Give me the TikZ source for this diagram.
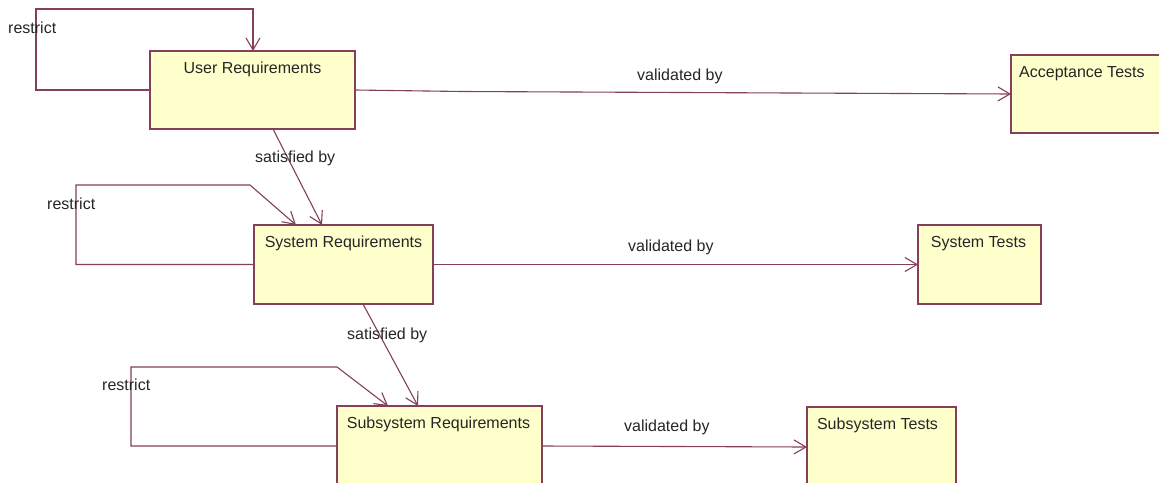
\documentclass[tikz,border=0pt]{standalone}
\usepackage{fontspec}
\setmainfont{Liberation Sans}
\usetikzlibrary{arrows.meta,calc}
\definecolor{edge}{HTML}{84405A}
\definecolor{boxfill}{HTML}{FFFFCC}
\definecolor{txt}{HTML}{262626}
\begin{document}
\begin{tikzpicture}[x=1pt,y=-1pt,
  box/.style={draw=edge,fill=boxfill,line width=1.2pt,inner sep=0pt,outer sep=0pt},
  title/.style={anchor=base,inner sep=0pt,text=txt,font=\fontsize{16}{19}\selectfont},
  lbl/.style={anchor=base west,inner sep=0pt,text=txt,font=\fontsize{16}{19}\selectfont},
  conn/.style={draw=edge,line width=1.1pt,-{Straight Barb[length=12pt,width=14pt,line width=1.1pt]}}]
\clip (0,0) rectangle (1159,482);
\fill[white] (0,0) rectangle (1159,482);
% boxes
\node[box,minimum width=205pt,minimum height=78pt] (ur) at (252.5,90) {};
\node[box,minimum width=159pt,minimum height=78pt] (at) at (1090.5,94) {};
\node[box,minimum width=179pt,minimum height=79pt] (sr) at (343.5,264.5) {};
\node[box,minimum width=123pt,minimum height=79pt] (st) at (979.5,264.5) {};
\node[box,minimum width=205pt,minimum height=80pt] (sub) at (439.5,446) {};
\node[box,minimum width=149pt,minimum height=80pt] (subt) at (881.5,447) {};
% titles
\node[title] (urt) at ($(ur.north)+(0,22)$) {User Requirements};
\node[title,anchor=base west] (att) at ($(at.north west)+(8,22)$) {Acceptance Tests};
\node[title] (srt) at ($(sr.north)+(0,22)$) {System Requirements};
\node[title] (stt) at ($(st.north)+(-1,22)$) {System Tests};
\node[title] (subtt) at ($(sub.north)+(-1,22)$) {Subsystem Requirements};
\node[title] (subtt2) at ($(subt.north)+(-4,22)$) {Subsystem Tests};
% self loops
\draw[conn] (ur.west) -- (36,90) |- (253,9) -- (253,51 |- ur.north);
\coordinate (srin) at ($(sr.north west)+(42,0)$);
\draw[conn] (sr.west) -- (76,264.5) |- (250,185) -- (srin);
\coordinate (subin) at ($(sub.north west)+(51,0)$);
\draw[conn] (sub.west) -- (131,446) |- (337,367) -- (subin);
% satisfied by
\coordinate (ursat) at ($(ur.south west)+(123,0)$);
\coordinate (srsat) at ($(sr.north west)+(68,0)$);
\draw[conn] (ursat) -- (srsat);
\coordinate (srsat2) at ($(sr.south west)+(109,0)$);
\coordinate (subsat) at ($(sub.north west)+(81,0)$);
\draw[conn] (srsat2) -- (subsat);
% validated by
\coordinate (bend) at (462,91.5);
\draw[conn] (ur.east) -- (bend) -- (at.west);
\draw[conn] (sr.east) -- (st.west);
\draw[conn] (sub.east) -- (subt.west);
% labels
\node[lbl] (r1) at (8,33) {restrict};
\node[lbl] (r2) at (47,209) {restrict};
\node[lbl] (r3) at (102,390) {restrict};
\node[lbl] (s1) at (255,162) {satisfied by};
\node[lbl] (s2) at (347,339) {satisfied by};
\node[lbl] (v1) at (637,80) {validated by};
\node[lbl] (v2) at (628,251) {validated by};
\node[lbl] (v3) at (624,431) {validated by};
\end{tikzpicture}
\end{document}
